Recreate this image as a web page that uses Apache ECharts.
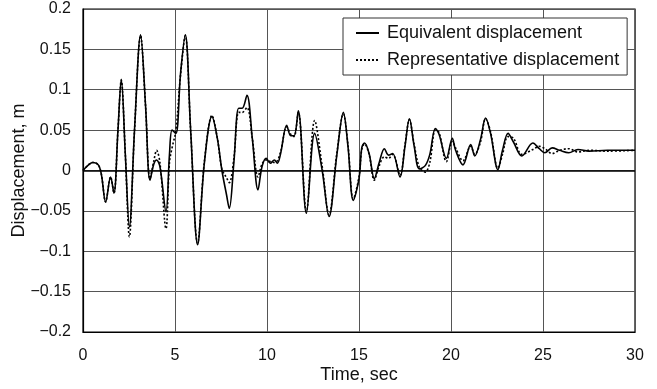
<!DOCTYPE html>
<html>
<head>
<meta charset="utf-8">
<script src="https://cdn.jsdelivr.net/npm/echarts@6/dist/echarts.min.js"></script>
<style>
html,body{margin:0;padding:0;background:#fff;}
#c{width:657px;height:389px;}
</style>
</head>
<body>
<div id="c"></div>
<script>
// Time (sec)
var timeSec = [0.0,0.3,0.53,0.83,1.0,1.23,1.5,1.68,1.9,2.08,2.3,2.52,2.8,3.13,3.4,3.64,3.85,4.0,4.18,4.51,4.7,4.84,5.05,5.3,5.56,5.85,6.23,6.6,7.01,7.3,7.55,7.8,7.95,8.2,8.46,8.65,8.91,9.2,9.51,9.73,9.96,10.18,10.4,10.56,10.74,11.07,11.29,11.47,11.7,12.14,12.59,13.0,13.37,13.8,14.15,14.4,14.69,15.0,15.15,15.3,15.55,15.83,16.1,16.38,16.6,16.83,17.23,17.5,17.74,18.0,18.28,18.6,18.85,19.15,19.35,19.75,20.07,20.25,20.65,21.07,21.29,21.6,21.88,22.15,22.55,22.8,23.1,23.4,23.85,24.45,24.8,25.1,25.5,25.9,26.4,26.9,27.5,28.5,30.0];
// Equivalent displacement (m)
var equivalent = [0.000,0.007,0.010,0.007,-0.005,-0.039,-0.008,-0.028,0.050,0.113,0.020,-0.070,0.050,0.168,0.080,-0.012,0.008,0.013,0.005,-0.051,0.020,0.050,0.046,0.120,0.168,0.050,-0.092,0.010,0.067,0.040,0.000,-0.030,-0.047,0.010,0.077,0.077,0.093,0.040,-0.024,0.005,0.015,0.009,0.013,0.009,0.021,0.056,0.043,0.043,0.074,-0.053,0.046,0.000,-0.057,0.020,0.072,0.030,-0.037,-0.010,0.028,0.034,0.021,-0.010,0.010,0.027,0.019,0.021,-0.008,0.030,0.064,0.030,0.002,0.006,0.020,0.052,0.045,0.015,0.040,0.025,0.007,0.032,0.018,0.038,0.065,0.046,0.001,0.025,0.046,0.035,0.018,0.034,0.027,0.022,0.028,0.025,0.022,0.026,0.024,0.025,0.025];
// Representative displacement (m)
var representative = [0.000,0.007,0.010,0.007,-0.005,-0.039,-0.008,-0.028,0.050,0.112,0.020,-0.082,0.050,0.167,0.080,-0.010,0.012,0.025,0.010,-0.072,0.010,0.028,0.050,0.118,0.167,0.050,-0.090,0.012,0.068,0.040,0.002,-0.009,-0.015,0.015,0.072,0.072,0.078,0.040,-0.008,0.008,0.013,0.011,0.010,0.012,0.023,0.054,0.045,0.042,0.072,-0.051,0.062,0.005,-0.055,0.022,0.070,0.032,-0.035,-0.008,0.026,0.033,0.020,-0.012,0.006,0.017,0.015,0.020,-0.006,0.032,0.063,0.032,0.004,-0.002,0.010,0.050,0.047,0.011,0.036,0.028,0.012,0.030,0.020,0.035,0.064,0.048,0.003,0.020,0.042,0.040,0.020,0.026,0.030,0.027,0.021,0.025,0.027,0.023,0.025,0.024,0.025];
var xTicks = [0,5,10,15,20,25,30];
var yTicks = [-0.2,-0.15,-0.1,-0.05,0,0.05,0.1,0.15,0.2];

function pairs(xs, ys){ return xs.map(function(x,i){ return [x, ys[i]]; }); }

var chart = echarts.init(document.getElementById('c'), null, {renderer:'canvas'});
var FONT = 'Liberation Sans';
chart.setOption({
  animation: false,
  backgroundColor: '#fff',
  grid: {left: 83, right: 22, top: 9, bottom: 57, containLabel: false, outerBoundsMode: 'none',
    show: true, borderColor: '#000', borderWidth: 1.2, backgroundColor: 'transparent'},
  legend: {
    orient: 'vertical', left: 343, top: 18,
    itemWidth: 23, itemHeight: 12, itemGap: 9,
    padding: [6, 8, 6, 12],
    borderColor: '#333', borderWidth: 1, backgroundColor: '#fff',
    itemStyle: {opacity: 0},
    textStyle: {fontFamily: FONT, fontSize: 18, color: '#111', padding: [0, 0, 0, 3]},
    data: ['Equivalent displacement', 'Representative displacement']
  },
  xAxis: {
    type: 'value', min: xTicks[0], max: xTicks[xTicks.length-1], interval: 5,
    name: 'Time, sec', nameLocation: 'middle', nameGap: 34, nameMoveOverlap: false,
    nameTextStyle: {fontFamily: FONT, fontSize: 18, color: '#111'},
    axisLine: {show: true, onZero: false, lineStyle: {color: '#000', width: 1.2}},
    axisTick: {show: false},
    axisLabel: {fontFamily: FONT, fontSize: 16, color: '#111', margin: 16},
    splitLine: {show: true, lineStyle: {color: '#555', width: 1}}
  },
  yAxis: {
    type: 'value', min: yTicks[0], max: yTicks[yTicks.length-1], interval: 0.05,
    name: 'Displacement, m', nameLocation: 'middle', nameGap: 55, nameMoveOverlap: false,
    nameTextStyle: {fontFamily: FONT, fontSize: 18, color: '#111'},
    axisLine: {show: true, lineStyle: {color: '#000', width: 1.2}},
    axisTick: {show: false},
    axisLabel: {fontFamily: FONT, fontSize: 16, color: '#111', margin: 12,
      formatter: function(v){ var r = Math.round(v*100)/100; return r === 0 ? '0' : (r < 0 ? '\u2212' + String(-r) : String(r)); }},
    splitLine: {show: true, lineStyle: {color: '#555', width: 1}}
  },
  series: [
    {
      name: 'Equivalent displacement', type: 'line', data: pairs(timeSec, equivalent),
      smooth: 0.35, showSymbol: false, symbol: 'none',
      lineStyle: {color: '#000', width: 1.6, type: 'solid'},
      itemStyle: {color: '#000'},
      markLine: {silent: true, symbol: 'none', label: {show: false},
        lineStyle: {color: '#000', width: 1.6, type: 'solid'}, data: [{yAxis: 0}]}
    },
    {
      name: 'Representative displacement', type: 'line', data: pairs(timeSec, representative),
      smooth: 0.35, showSymbol: false, symbol: 'none',
      lineStyle: {color: '#000', width: 1.6, type: [2, 2]},
      itemStyle: {color: '#000'}
    }
  ]
});
</script>
</body>
</html>
